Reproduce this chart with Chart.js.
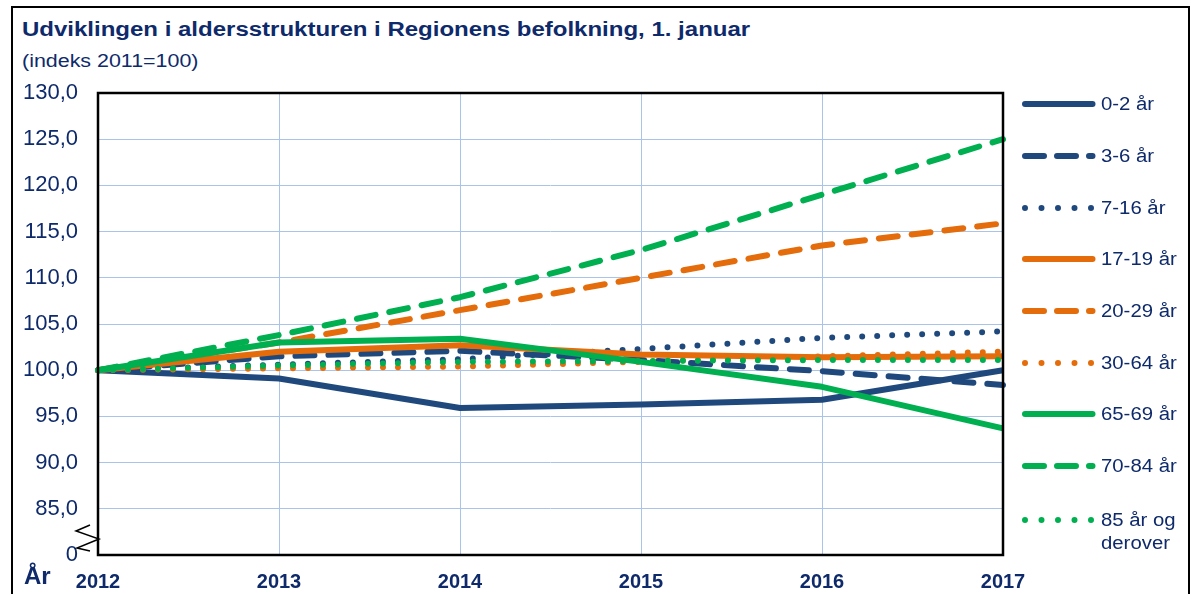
<!DOCTYPE html>
<html>
<head>
<meta charset="utf-8">
<script src="https://cdn.jsdelivr.net/npm/chart.js@4/dist/chart.umd.min.js"></script>
<style>
  body { margin: 0; background: #fff; font-family: "Liberation Sans", Arial, sans-serif; }
  #wrap { position: relative; width: 1193px; height: 594px; overflow: hidden; }
  #frame { position: absolute; left: 11px; top: 6px; width: 1179px; height: 600px; border: 2px solid #000; box-sizing: border-box; }
  #title { position: absolute; left: 22px; top: 18px; font-size: 20px; font-weight: bold; color: #0E2A6B; white-space: nowrap; transform: scaleX(1.2); transform-origin: 0 0; }
  #sub { position: absolute; left: 22px; top: 51px; font-size: 18px; color: #0E2A6B; white-space: nowrap; transform: scaleX(1.19); transform-origin: 0 0; }
  #aar { position: absolute; left: 24px; top: 562px; font-size: 24px; font-weight: bold; color: #0E2A6B; }
  #chartBox { position: absolute; left: 0; top: 0; width: 1040px; height: 594px; }
  #legend { position: absolute; left: 1020px; top: 0; }
  .li { position: absolute; left: 0; width: 170px; font-size: 18px; color: #0E2A6B; line-height: 23px; }
  .li svg { position: absolute; left: 0; top: 0; }
  .li span { position: absolute; left: 81px; top: -11px; white-space: nowrap; transform: scaleX(1.13); transform-origin: 0 0; }
</style>
</head>
<body>
<div id="wrap">
  <div id="frame"></div>
  <div id="title">Udviklingen i aldersstrukturen i Regionens befolkning, 1. januar</div>
  <div id="sub">(indeks 2011=100)</div>
  <div id="chartBox"><canvas id="c" width="1040" height="594"></canvas></div>
  <div id="aar">År</div>
  <div id="legend"></div>
</div>
<script>
var years = ['2012', '2013', '2014', '2015', '2016', '2017'];
var yTicks = [80, 85, 90, 95, 100, 105, 110, 115, 120, 125, 130];

var ageGroups = ['0-2 år', '3-6 år', '7-16 år', '17-19 år', '20-29 år', '30-64 år', '65-69 år', '70-84 år', '85 år og derover'];

var v0_2   = [100, 99.1, 95.9, 96.3, 96.8, 100.0];
var v3_6   = [100, 101.5, 102.1, 101.1, 99.9, 98.4];
var v7_16  = [100, 100.6, 101.2, 102.3, 103.5, 104.2];
var v17_19 = [100, 102.0, 102.7, 101.7, 101.4, 101.5];
var v20_29 = [100, 103.0, 106.5, 110.0, 113.5, 115.9];
var v30_64 = [100, 100.2, 100.4, 100.9, 101.5, 102.0];
var v65_69 = [100, 103.0, 103.4, 100.9, 98.2, 93.7];
var v70_84 = [100, 103.8, 107.9, 113.0, 119.0, 125.0];
var v85    = [100, 100.5, 100.9, 101.0, 101.1, 101.1];

var navy = '#1F497D', orange = '#E46C0A', green = '#00B050';
var solid = [], dashed = [19, 14], dotted = [0, 15];

function ds(label, data, color, dash) {
    return {
        label: label,
        data: data,
        borderColor: color,
        backgroundColor: color,
        borderWidth: 6,
        borderDash: dash,
        borderCapStyle: dash.length ? 'round' : 'butt',
        borderJoinStyle: 'round',
        pointRadius: 0,
        tension: 0,
        fill: false
    };
}

var sets = [
    ds(ageGroups[0], v0_2, navy, solid),
    ds(ageGroups[1], v3_6, navy, dashed),
    ds(ageGroups[2], v7_16, navy, dotted),
    ds(ageGroups[3], v17_19, orange, solid),
    ds(ageGroups[4], v20_29, orange, dashed),
    ds(ageGroups[5], v30_64, orange, dotted),
    ds(ageGroups[6], v65_69, green, solid),
    ds(ageGroups[7], v70_84, green, dashed),
    ds(ageGroups[8], v85, green, dotted)
];
// Excel draws the first series on top
var drawOrder = sets.slice().reverse();

var textColor = '#0E2A6B';

// black frame round the plot area plus the axis break mark
var framePlugin = {
    id: 'frame',
    afterDraw: function(chart) {
        var a = chart.chartArea, ctx = chart.ctx;
        ctx.save();
        ctx.strokeStyle = '#000';
        ctx.lineWidth = 2.5;
        ctx.strokeRect(a.left, a.top, a.right - a.left, a.bottom - a.top);
        ctx.lineWidth = 1.5;
        ctx.beginPath();
        ctx.moveTo(a.left - 8, a.bottom - 30);
        ctx.lineTo(a.left - 22, a.bottom - 24);
        ctx.lineTo(a.left + 1, a.bottom - 16);
        ctx.lineTo(a.left - 21, a.bottom - 7);
        ctx.lineTo(a.left - 8, a.bottom - 4);
        ctx.stroke();
        ctx.restore();
    }
};

var chart = new Chart(document.getElementById('c'), {
    type: 'line',
    data: { labels: years, datasets: drawOrder },
    options: {
        responsive: false,
        animation: false,
        layout: { autoPadding: false, padding: { top: 93, right: 37, left: 0, bottom: 0 } },
        plugins: { legend: { display: false }, tooltip: { enabled: false } },
        scales: {
            x: {
                offset: false,
                grid: { color: '#A9C4E8', lineWidth: 1, drawTicks: false },
                border: { display: false },
                ticks: { color: textColor, padding: 15, maxRotation: 0, font: { family: 'Liberation Sans', size: 20, weight: 'bold' } },
                afterFit: function(s) { s.height = 39; s.paddingLeft = 0; s.paddingRight = 0; }
            },
            y: {
                min: 80, max: 130,
                afterBuildTicks: function(s) { s.ticks = yTicks.map(function(v) { return { value: v }; }); },
                grid: { color: '#A9C4E8', lineWidth: 1, drawTicks: false },
                border: { display: false },
                ticks: {
                    color: textColor, padding: 20,
                    font: { family: 'Liberation Sans', size: 22 },
                    callback: function(v) { return v === 80 ? '0' : v.toFixed(1).replace('.', ','); }
                },
                afterFit: function(s) { s.width = 98; s.paddingTop = 0; s.paddingBottom = 0; }
            }
        }
    },
    plugins: [framePlugin]
});

// legend drawn from the dataset styles
var legend = document.getElementById('legend');
var rowY = [104, 156, 208, 259, 311, 363, 414, 466, 520];
sets.forEach(function(d, i) {
    var item = document.createElement('div');
    item.className = 'li';
    item.style.top = rowY[i] + 'px';
    var dash = '';
    if (d.borderDash.length) dash = d.borderDash[0] === 0 ? ' stroke-dasharray="0 16.5"' : ' stroke-dasharray="19 13"';
    item.innerHTML = '<svg width="80" height="10" style="top:-5px"><line x1="5" y1="5" x2="72.5" y2="5" stroke="' + d.borderColor +
        '" stroke-width="6" stroke-linecap="round"' + dash + '/></svg><span>' + (i === 8 ? '85 år og<br>derover' : d.label) + '</span>';
    legend.appendChild(item);
});
</script>
</body>
</html>
